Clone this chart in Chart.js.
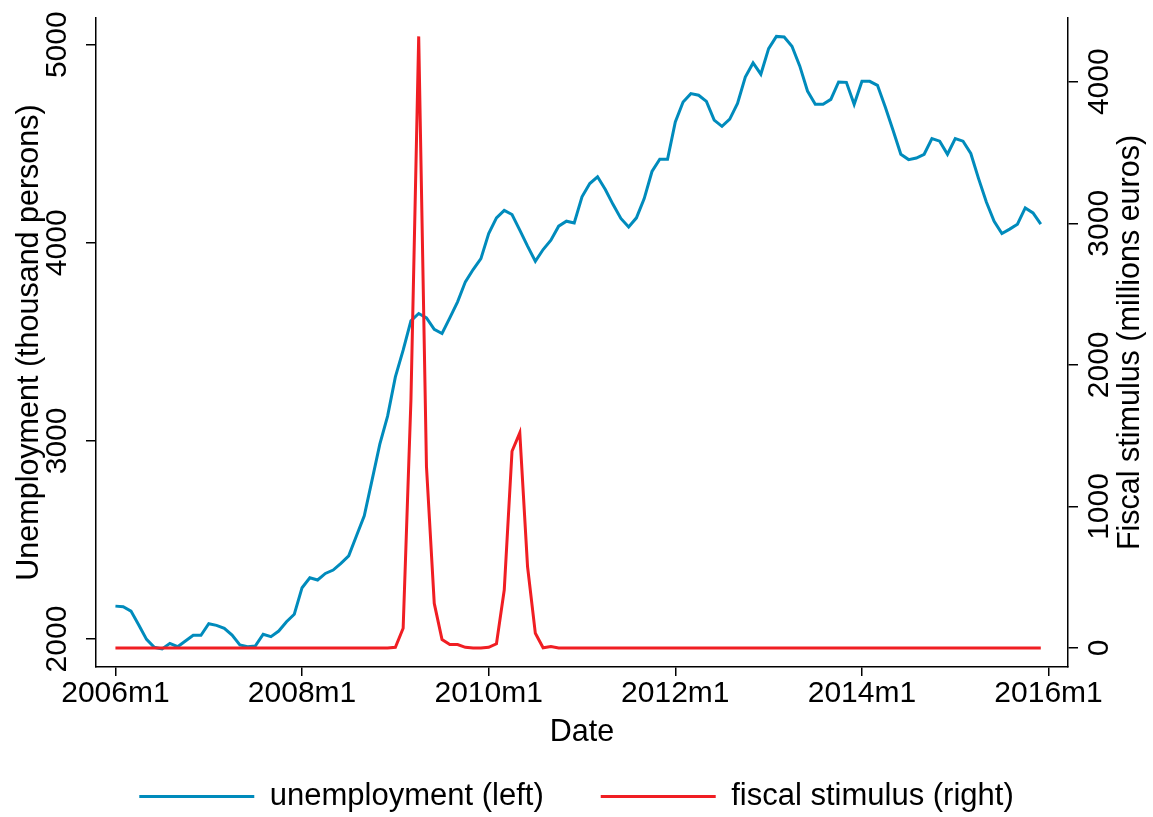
<!DOCTYPE html>
<html>
<head>
<meta charset="utf-8">
<script src="https://cdn.jsdelivr.net/npm/chart.js@4.4.1/dist/chart.umd.min.js"></script>
<style>
  html, body { margin: 0; padding: 0; background: #fff; }
  #wrap { width: 1153px; height: 817px; }
</style>
</head>
<body>
<div id="wrap"><canvas id="c" width="1153" height="817"></canvas></div>
<script>
// ---- data ----
const startYear = 2006;
const unemployment = [
  2166, 2163, 2141, 2071, 1998, 1958, 1950, 1978, 1961, 1990, 2019, 2019,
  2077, 2069, 2054, 2020, 1970, 1961, 1965, 2024, 2012, 2040, 2087, 2125,
  2259, 2309, 2298, 2331, 2348, 2382, 2420, 2521, 2622, 2802, 2984, 3125,
  3323, 3458, 3606, 3643, 3621, 3563, 3542, 3621, 3702, 3803, 3865, 3920,
  4047, 4126, 4164, 4143, 4064, 3983, 3907, 3966, 4013, 4084, 4109, 4100,
  4232, 4299, 4333, 4269, 4193, 4123, 4080, 4126, 4223, 4360, 4422, 4422,
  4610, 4711, 4753, 4745, 4714, 4619, 4588, 4624, 4703, 4837, 4908, 4851,
  4980, 5042, 5039, 4992, 4893, 4766, 4699, 4699, 4724, 4812, 4810, 4699,
  4815, 4815, 4795, 4686, 4568, 4447, 4420, 4428, 4447, 4526, 4513, 4447,
  4526, 4513, 4451, 4324, 4206, 4109, 4047, 4069, 4094, 4176, 4151, 4094
];
const fiscalStimulus = [
  0, 0, 0, 0, 0, 0, 0, 0, 0, 0, 0, 0,
  0, 0, 0, 0, 0, 0, 0, 0, 0, 0, 0, 0,
  0, 0, 0, 0, 0, 0, 0, 0, 0, 0, 0, 0,
  5, 140, 1750, 4320, 1280, 315, 60, 25, 25, 5, 0, 0,
  5, 30, 410, 1390, 1520, 574, 104, 2, 10, 0, 0, 0,
  0, 0, 0, 0, 0, 0, 0, 0, 0, 0, 0, 0,
  0, 0, 0, 0, 0, 0, 0, 0, 0, 0, 0, 0,
  0, 0, 0, 0, 0, 0, 0, 0, 0, 0, 0, 0,
  0, 0, 0, 0, 0, 0, 0, 0, 0, 0, 0, 0,
  0, 0, 0, 0, 0, 0, 0, 0, 0, 0, 0, 0
];
const xTickValues = [0, 24, 48, 72, 96, 120];
const xTickLabels = ['2006m1', '2008m1', '2010m1', '2012m1', '2014m1', '2016m1'];
const leftTicks = [2000, 3000, 4000, 5000];
const rightTicks = [0, 1000, 2000, 3000, 4000];
const seriesNames = ['unemployment (left)', 'fiscal stimulus (right)'];
const xTitle = 'Date';
const leftTitle = 'Unemployment (thousand persons)';
const rightTitle = 'Fiscal stimulus (millions euros)';

// month index -> point
const toPoints = arr => arr.map((v, i) => ({ x: i, y: v }));

const FONT = '"Liberation Sans", Arial, Helvetica, sans-serif';
const FS_TICK = 30;
const FS_TITLE = 30.5;
const FS_LEGEND = 31;
const BLUE = 'rgb(0,139,188)';
const RED = 'rgb(240,30,35)';

Chart.defaults.font.family = FONT;
Chart.defaults.color = '#000';

const axisText = {
  id: 'axisText',
  afterDraw(chart) {
    const ctx = chart.ctx;
    ctx.save();
    ctx.fillStyle = '#000';
    ctx.textAlign = 'center';
    ctx.textBaseline = 'middle';
    const drawRot = (text, x, y) => {
      ctx.save(); ctx.translate(x, y); ctx.rotate(-Math.PI / 2);
      ctx.fillText(text, 0, 0); ctx.restore();
    };
    const yL = chart.scales.y, yR = chart.scales.y1;
    ctx.font = FS_TICK + 'px ' + FONT;
    yL.ticks.forEach(t => drawRot(String(t.value), yL.right - 38, yL.getPixelForValue(t.value)));
    yR.ticks.forEach(t => drawRot(String(t.value), yR.left + 31.5, yR.getPixelForValue(t.value)));
    ctx.font = FS_TITLE + 'px ' + FONT;
    drawRot(rightTitle, yR.left + 63, (chart.chartArea.top + chart.chartArea.bottom) / 2);
    ctx.restore();
  }
};

const gridOpts = {
  display: true,
  drawOnChartArea: false,
  drawTicks: true,
  tickLength: 10,
  color: '#000',
  lineWidth: 1.5
};
const borderOpts = { display: true, color: '#000', width: 1.5 };

new Chart(document.getElementById('c'), {
  type: 'line',
  data: {
    datasets: [
      {
        label: seriesNames[0],
        data: toPoints(unemployment),
        yAxisID: 'y',
        borderColor: BLUE,
        backgroundColor: BLUE,
        borderWidth: 3,
        pointRadius: 0,
        tension: 0,
        order: 1
      },
      {
        label: seriesNames[1],
        data: toPoints(fiscalStimulus),
        yAxisID: 'y1',
        borderColor: RED,
        backgroundColor: RED,
        borderWidth: 3,
        pointRadius: 0,
        tension: 0,
        order: 0
      }
    ]
  },
  options: {
    responsive: false,
    animation: false,
    devicePixelRatio: 1,
    layout: { padding: { top: 18, left: 0, right: 0, bottom: -5 } },
    plugins: {
      tooltip: { enabled: false },
      legend: {
        position: 'bottom',
        align: 'center',
        labels: {
          boxWidth: 115,
          boxHeight: 3,
          padding: 57,
          color: '#000',
          font: { size: FS_LEGEND, family: FONT },
          sort: (a, b) => a.datasetIndex - b.datasetIndex,
          generateLabels: chart => chart.data.datasets.map((ds, i) => ({
            text: ds.label,
            fillStyle: ds.borderColor,
            strokeStyle: ds.borderColor,
            lineWidth: 0,
            hidden: false,
            datasetIndex: i
          }))
        }
      }
    },
    scales: {
      x: {
        type: 'linear',
        min: -2.5,
        max: 122.5,
        afterBuildTicks: s => { s.ticks = xTickValues.map(v => ({ value: v })); },
        afterFit: s => { s.height = 57; },
        ticks: {
          padding: 0,
          maxRotation: 0,
          minRotation: 0,
          autoSkip: false,
          color: '#000',
          font: { size: FS_TICK, family: FONT },
          callback: v => xTickLabels[xTickValues.indexOf(v)]
        },
        grid: Object.assign({}, gridOpts, { tickLength: 9 }),
        border: borderOpts,
        title: {
          display: true,
          text: xTitle,
          color: '#000',
          font: { size: FS_TITLE, family: FONT },
          padding: { top: 0, bottom: -27 }
        }
      },
      y: {
        type: 'linear',
        position: 'left',
        min: 1858.7,
        max: 5134.8,
        afterBuildTicks: s => { s.ticks = leftTicks.map(v => ({ value: v })); },
        afterFit: s => { s.width = 96; },
        ticks: { display: false },
        grid: gridOpts,
        border: borderOpts,
        title: {
          display: true,
          text: leftTitle,
          color: '#000',
          font: { size: FS_TITLE, family: FONT },
          padding: { top: 10.8, bottom: 0 }
        }
      },
      y1: {
        type: 'linear',
        position: 'right',
        min: -134,
        max: 4450,
        afterBuildTicks: s => { s.ticks = rightTicks.map(v => ({ value: v })); },
        afterFit: s => { s.width = 85; },
        ticks: { display: false },
        grid: gridOpts,
        border: borderOpts
      }
    }
  },
  plugins: [axisText]
});
</script>
</body>
</html>
